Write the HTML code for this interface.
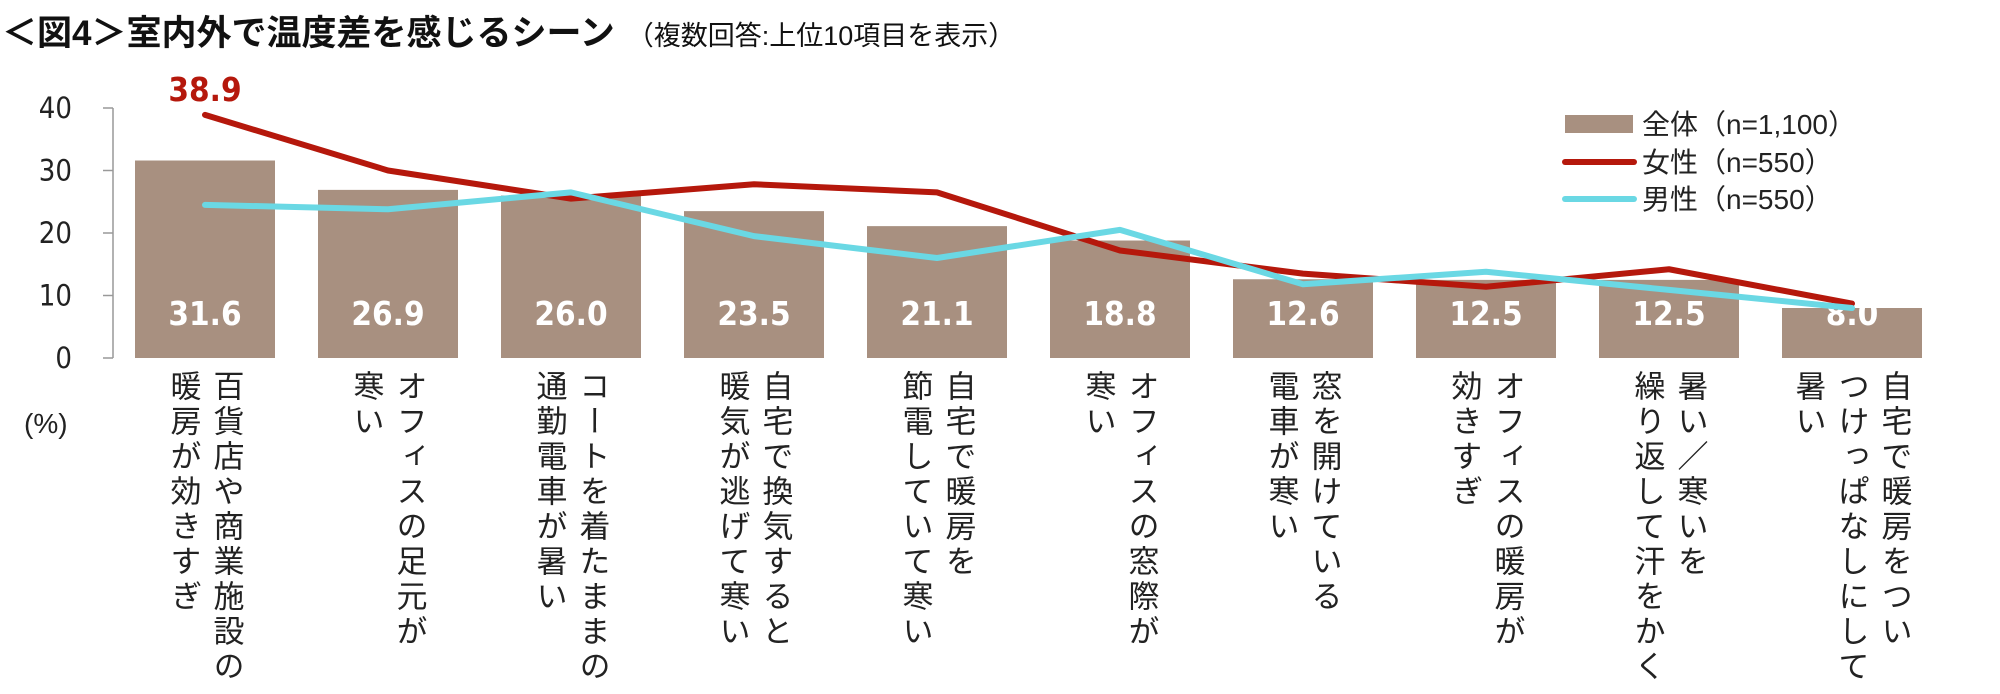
<!DOCTYPE html>
<html><head><meta charset="utf-8">
<style>
html,body{margin:0;padding:0;background:#fff;}
svg{display:block;font-family:"Liberation Sans","Noto Sans CJK JP",sans-serif;}
</style></head>
<body>
<svg id="chart" width="2000" height="694" viewBox="0 0 2000 694" xmlns="http://www.w3.org/2000/svg">
  <text x="2" y="45" font-size="35" font-weight="bold" fill="#111">＜図4＞室内外で温度差を感じるシーン<tspan font-size="27" font-weight="normal" dx="12">（複数回答:上位10項目を表示）</tspan></text>
  <g id="axis"></g>
  <g id="bars"></g>
  <g id="lines"></g>
  <g id="labels"></g>
  <text x="24" y="433" font-size="28" fill="#222">(%)</text>
  <g>
    <rect x="1565" y="115" width="68" height="18" fill="#a89080"/>
    <text x="1642" y="134" font-size="28" fill="#222">全体（n=1,100）</text>
    <line x1="1565" y1="162" x2="1634" y2="162" stroke="#b5180c" stroke-width="6" stroke-linecap="round"/>
    <text x="1642" y="172" font-size="28" fill="#222">女性（n=550）</text>
    <line x1="1565" y1="199" x2="1634" y2="199" stroke="#6ad8e4" stroke-width="6" stroke-linecap="round"/>
    <text x="1642" y="209" font-size="28" fill="#222">男性（n=550）</text>
  </g>
</svg>
<script>
const categories = [
  ["百貨店や商業施設の","暖房が効きすぎ"],
  ["オフィスの足元が","寒い"],
  ["コートを着たままの","通勤電車が暑い"],
  ["自宅で換気すると","暖気が逃げて寒い"],
  ["自宅で暖房を","節電していて寒い"],
  ["オフィスの窓際が","寒い"],
  ["窓を開けている","電車が寒い"],
  ["オフィスの暖房が","効きすぎ"],
  ["暑い／寒いを","繰り返して汗をかく"],
  ["自宅で暖房をつい","つけっぱなしにして","暑い"]
];
const totalValues = [31.6,26.9,26.0,23.5,21.1,18.8,12.6,12.5,12.5,8.0];
const femaleValues = [38.9,30.0,25.5,27.8,26.5,17.2,13.5,11.4,14.2,8.7];
const maleValues = [24.5,23.8,26.5,19.5,16.0,20.5,11.8,13.8,10.9,8.0];
const yTicks = [0,10,20,30,40];

const NS="http://www.w3.org/2000/svg";
const X0=113, PITCH=183, PTOP=108, PBOT=358, YMAX=40, BARW=140;
function xc(i){return X0+92+i*PITCH;}
function yv(v){return PBOT-(v/YMAX)*(PBOT-PTOP);}
function mk(tag,attrs,parent){const e=document.createElementNS(NS,tag);for(const k in attrs)e.setAttribute(k,attrs[k]);parent.appendChild(e);return e;}

const axisG=document.getElementById('axis');
const al=mk('line',{x1:X0,y1:PTOP,x2:X0,y2:PBOT,stroke:'#999','stroke-width':1.5},axisG);


yTicks.forEach(t=>{
  const tk=mk('line',{x1:X0-10,y1:yv(t),x2:X0,y2:yv(t),stroke:'#999','stroke-width':1.5},axisG);
  
  
  const tl=mk('text',{x:72,y:yv(t)+10,'font-size':29,'text-anchor':'end',fill:'#222',style:'font-family:"DejaVu Sans Condensed","Liberation Sans Narrow",sans-serif'},axisG);
  tl.textContent=t;
  
  
});

const barsG=document.getElementById('bars');
totalValues.forEach((v,i)=>{
  const r=mk('rect',{x:xc(i)-BARW/2,y:yv(v),width:BARW,height:PBOT-yv(v),fill:'#a89080'},barsG);
  
  
  const t=mk('text',{x:xc(i),y:325,'font-size':33,'font-weight':'bold','text-anchor':'middle',fill:'#fff',style:'font-family:"DejaVu Sans Condensed",sans-serif'},barsG);
  t.textContent=v.toFixed(1);
  
  
});

const linesG=document.getElementById('lines');
function poly(vals,color,name){
  const p=mk('polyline',{points:vals.map((v,i)=>xc(i)+','+yv(v)).join(' '),fill:'none',stroke:color,'stroke-width':6,'stroke-linejoin':'round','stroke-linecap':'round'},linesG);
  
  
}
poly(femaleValues,'#b5180c','line-female');
poly(maleValues,'#6ad8e4','line-male');
const pk=mk('text',{x:xc(0),y:yv(femaleValues[0])-14,'font-size':33,'font-weight':'bold','text-anchor':'middle',fill:'#b5180c',style:'font-family:"DejaVu Sans Condensed",sans-serif'},linesG);
pk.textContent=femaleValues[0].toFixed(1);



const labelsG=document.getElementById('labels');
categories.forEach((lns,i)=>{
  const n=lns.length;
  lns.forEach((s,j)=>{
    const cx=xc(i)+(n===2?(21-43*j):(42-43*j));
    const t=mk('text',{x:cx,y:370,'font-size':31,fill:'#222','letter-spacing':4,style:'writing-mode:vertical-rl;text-orientation:upright'},labelsG);
    t.textContent=s;
    
    
  });
});
</script>
</body></html>
